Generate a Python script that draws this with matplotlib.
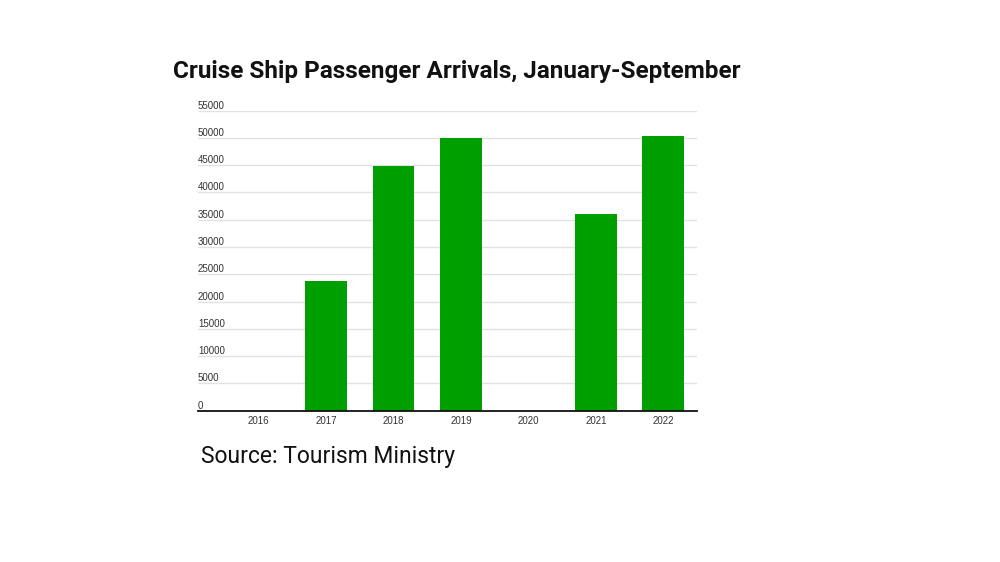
import matplotlib
matplotlib.use("Agg")
import matplotlib.pyplot as plt

years = ["2016", "2017", "2018", "2019", "2020", "2021", "2022"]
arrivals = [0, 23800, 44900, 49900, 0, 36000, 50400]
yticks = [0, 5000, 10000, 15000, 20000, 25000, 30000, 35000, 40000, 45000, 50000, 55000]

title = "Cruise Ship Passenger Arrivals, January-September"
source = "Source: Tourism Ministry"

fig = plt.figure(figsize=(10, 5.62), dpi=100)
ax = fig.add_axes([0.198, 0.2692, 0.499, 0.534])

x = list(range(len(years)))
ax.bar(x, arrivals, width=0.62, color="#009f00", zorder=3)
ax.set_xlim(-0.9, 6.5)
ax.set_ylim(0, 55000)
ax.set_yticks(yticks)
ax.set_yticklabels([str(v) for v in yticks])
ax.set_xticks(x)
ax.set_xticklabels(years)

ax.grid(axis="y", color="#e2e2e2", linewidth=1, zorder=0)
ax.grid(axis="x", visible=False)
for s in ["top", "right", "left"]:
    ax.spines[s].set_visible(False)
ax.spines["bottom"].set_color("#111111")
ax.spines["bottom"].set_linewidth(1.3)
ax.spines["bottom"].set_zorder(4)

ax.tick_params(axis="y", length=0, pad=0, labelsize=7, labelcolor="#333333")
ax.tick_params(axis="x", length=0, pad=4, labelsize=7, labelcolor="#333333")
for lbl in ax.get_yticklabels():
    lbl.set_horizontalalignment("left")
    lbl.set_verticalalignment("bottom")
    lbl.set_fontfamily("Liberation Sans")
for lbl in ax.get_xticklabels():
    lbl.set_fontfamily("Liberation Sans")

fig.text(0.457, 0.872, title, ha="center", va="center", fontsize=17.5,
         fontweight="bold", family="Roboto", color="#111111")
fig.text(0.201, 0.187, source, ha="left", va="center", fontsize=16.5,
         family="Roboto", color="#111111")

fig.savefig("out.png", dpi=100, facecolor="white")
